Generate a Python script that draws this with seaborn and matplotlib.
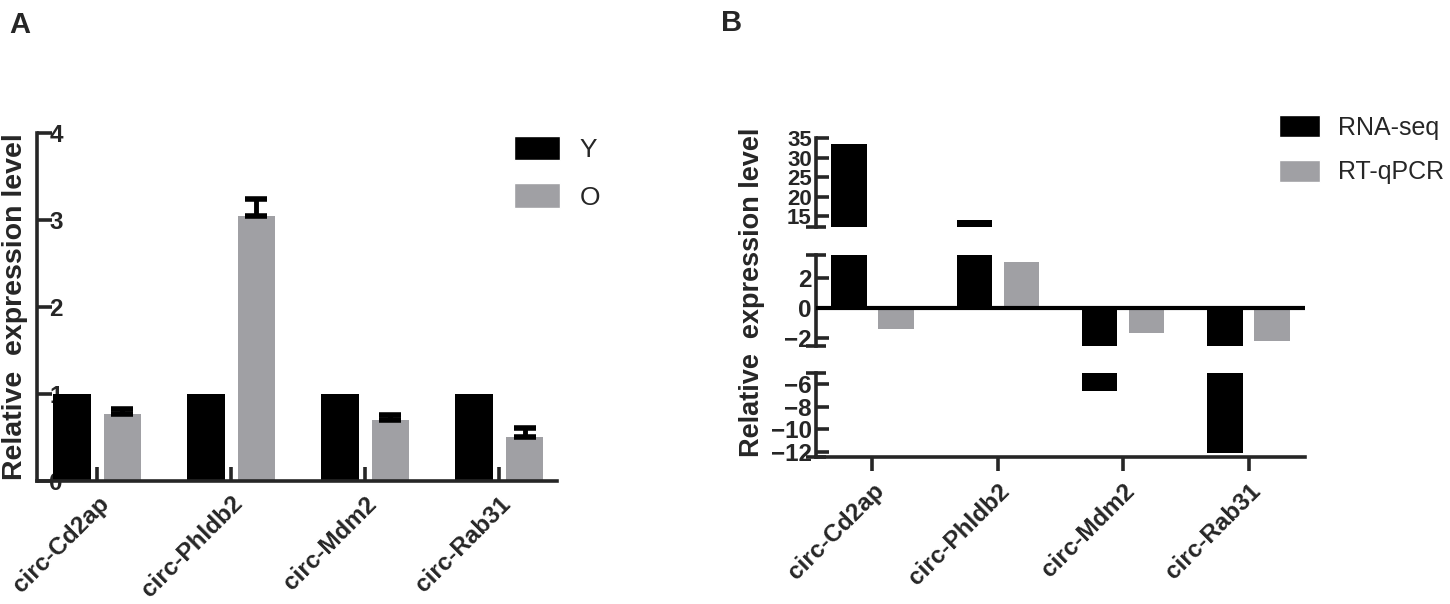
import numpy as np
import pandas as pd
import matplotlib
matplotlib.use("Agg")
import matplotlib.pyplot as plt
import seaborn as sns
from matplotlib.patches import Patch
from matplotlib.ticker import FixedLocator

sns.set_style("ticks")
plt.rcParams["font.family"] = ["Liberation Sans", "DejaVu Sans"]

# data
genes = ["circ-Cd2ap", "circ-Phldb2", "circ-Mdm2", "circ-Rab31"]
young = [1.0, 1.0, 1.0, 1.0]
old = [0.77, 3.05, 0.70, 0.51]
old_err = [0.06, 0.19, 0.06, 0.10]
rnaseq = [33.5, 14.0, -6.6, -12.1]
rtqpcr = [-1.4, 3.07, -1.67, -2.2]

black = "#000000"
grey = "#a0a0a4"

df_a = pd.DataFrame({
    "gene": genes * 2,
    "group": ["Y"] * 4 + ["O"] * 4,
    "value": young + old,
})
df_b = pd.DataFrame({
    "gene": genes * 2,
    "method": ["RNA-seq"] * 4 + ["RT-qPCR"] * 4,
    "value": rnaseq + rtqpcr,
})

W, H = 1450, 604
fig = plt.figure(figsize=(W / 100, H / 100), dpi=100)


def px_axes(x0, x1, y0, y1):
    # pixel box (top-left origin) -> figure axes
    return fig.add_axes([x0 / W, 1 - y1 / H, (x1 - x0) / W, (y1 - y0) / H])


lw_spine = 2.6
tick_size = 17.5
tick_font = dict(fontsize=tick_size, fontweight="bold")

# ---------------- Panel A ----------------
ax = px_axes(37, 557, 133, 481)
sns.barplot(data=df_a, x="gene", y="value", hue="group",
            palette={"Y": black, "O": grey}, width=0.75, gap=0.25,
            linewidth=0, legend=False, ax=ax)
bars_o = ax.containers[1]
xs = [b.get_x() + b.get_width() / 2 for b in bars_o]
hs = [b.get_height() for b in bars_o]
ax.errorbar(xs, hs, yerr=[np.zeros(len(old_err)), old_err], fmt="none",
            ecolor="black", elinewidth=3.5, capsize=8, capthick=4, zorder=3)
ax.set_xlim(-0.45, 3.43)
ax.set_ylim(0, 4)
ax.set_yticks([0, 1, 2, 3, 4])
ax.set_axisbelow(True)
sns.despine(ax=ax)
for s in ("left", "bottom"):
    ax.spines[s].set_linewidth(lw_spine)
ax.tick_params(axis="y", direction="in", length=11, width=2.6, pad=-9)
for t in ax.get_yticklabels():
    t.set_horizontalalignment("left")
    t.set_fontsize(tick_size)
    t.set_fontweight("bold")
ax.tick_params(axis="x", direction="in", length=10, width=2.6, pad=8)
ax.set_xticks(range(4))
ax.set_xticklabels(genes, rotation=45, ha="right", rotation_mode="anchor", **tick_font)
ax.set_xlabel("")
ax.set_ylabel("Relative  expression level", fontsize=20.5, fontweight="bold")
ax.yaxis.set_label_coords(-0.017, 0.5)

fig.legend(handles=[Patch(facecolor=black, label="Y"), Patch(facecolor=grey, label="O")],
           loc="upper left", bbox_to_anchor=(514 / W, 1 - 136 / H),
           bbox_transform=fig.transFigure, frameon=False, fontsize=19,
           handlelength=1.75, handleheight=1.05, handletextpad=0.75,
           labelspacing=0.8, borderpad=0, borderaxespad=0)

# ---------------- Panel B (broken axis) ----------------
segments = [
    ((138, 227), (12.2, 35), [15, 20, 25, 30, 35], 16),
    ((255, 346), (-2.55, 3.55), [-2, 0, 2], tick_size),
    ((373, 457), (-12.45, -5.0), [-12, -10, -8, -6], tick_size),
]
axes_b = []
for (y0, y1), lim, ticks, fs in segments:
    bx = px_axes(816, 1305, y0, y1)
    sns.barplot(data=df_b, x="gene", y="value", hue="method",
                palette={"RNA-seq": black, "RT-qPCR": grey}, width=0.75, gap=0.25,
                linewidth=0, legend=False, ax=bx)
    bx.set_xlim(-0.45, 3.45)
    bx.set_ylim(*lim)
    bx.set_yticks(ticks)
    bx.yaxis.set_minor_locator(FixedLocator(list(lim)))
    bx.tick_params(axis="y", which="major", direction="in", length=9, width=2.6, pad=3)
    bx.tick_params(axis="y", which="minor", direction="inout", length=15, width=2.6)
    for t in bx.get_yticklabels():
        t.set_fontsize(fs)
        t.set_fontweight("bold")
    bx.set_xlabel("")
    bx.set_ylabel("")
    for s in ("top", "right"):
        bx.spines[s].set_visible(False)
    bx.spines["left"].set_linewidth(lw_spine)
    axes_b.append(bx)

top_b, mid_b, bot_b = axes_b
for bx in (top_b, mid_b):
    bx.spines["bottom"].set_visible(False)
    bx.tick_params(axis="x", bottom=False, labelbottom=False)
mid_b.axhline(0, color="black", lw=3, zorder=3)
bot_b.spines["bottom"].set_linewidth(lw_spine)
bot_b.tick_params(axis="x", direction="out", length=10, width=2.6, pad=6)
bot_b.set_xticks(range(4))
bot_b.set_xticklabels(genes, rotation=45, ha="right", rotation_mode="anchor", **tick_font)

fig.text(765 / W, 1 - 292 / H, "Relative  expression level", rotation=90,
         ha="right", va="center", fontsize=19.5, fontweight="bold")

fig.legend(handles=[Patch(facecolor=black, label="RNA-seq"), Patch(facecolor=grey, label="RT-qPCR")],
           loc="upper left", bbox_to_anchor=(1279 / W, 1 - 115 / H),
           bbox_transform=fig.transFigure, frameon=False, fontsize=18,
           handlelength=1.65, handleheight=1.0, handletextpad=0.7,
           labelspacing=0.8, borderpad=0, borderaxespad=0)

# panel letters
fig.text(9 / W, 1 - 11 / H, "A", ha="left", va="top", fontsize=21, fontweight="bold")
fig.text(721 / W, 1 - 9 / H, "B", ha="left", va="top", fontsize=21, fontweight="bold")

fig.savefig("out.png", dpi=100)
